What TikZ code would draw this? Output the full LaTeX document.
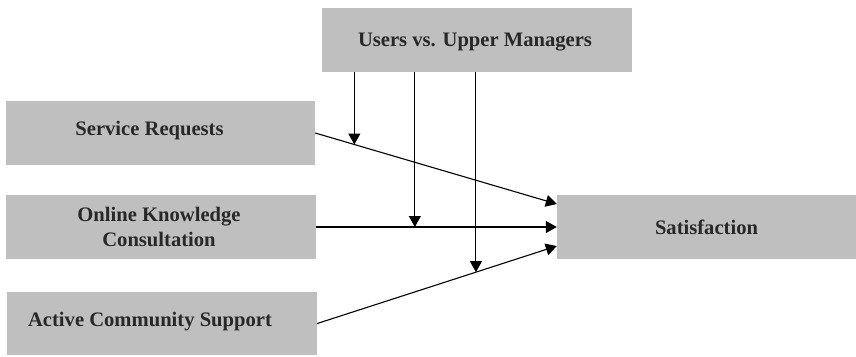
\documentclass[tikz,border=0pt]{standalone}
\usepackage{fontspec}
\setmainfont{Liberation Serif}
\usetikzlibrary{arrows.meta,calc}
\definecolor{boxgray}{RGB}{191,191,191}
\definecolor{inkgray}{RGB}{40,40,40}
\tikzset{
  box/.style={rectangle, fill=boxgray, draw=none, inner sep=0pt},
  lbl/.style={text=inkgray, font=\fontsize{20.6}{25}\selectfont\bfseries, align=center, inner sep=0pt},
  arr/.style={line width=1.1pt, -{Triangle[length=11pt,width=12pt]}},
}
\begin{document}
\begin{tikzpicture}[x=1pt,y=-1pt]
  \useasboundingbox (0,0) rectangle (856,356);

  % boxes
  \node[box, minimum width=310pt, minimum height=64pt] (top) at (477,40) {};
  \node[box, minimum width=309pt, minimum height=64pt] (sr)  at (160.5,133) {};
  \node[box, minimum width=310pt, minimum height=64pt] (ok)  at (161,227) {};
  \node[box, minimum width=310pt, minimum height=63pt] (ac)  at (162,323.5) {};
  \node[box, minimum width=299pt, minimum height=64pt] (sat) at (706.5,227) {};

  % labels (shifts are in page points, upward positive)
  \node[lbl] (toptext) at ([xshift=-2pt,yshift=-2pt]top.center) {Users vs. Upper Managers};
  \node[lbl] (srtext)  at ([xshift=-11pt,yshift=2pt]sr.center) {Service Requests};
  \node[lbl] (oktext)  at ([xshift=-2pt]ok.center) {Online Knowledge\\Consultation};
  \node[lbl] (actext)  at ([xshift=-12pt,yshift=2pt]ac.center) {Active Community Support};
  \node[lbl] (sattext) at (sat.center) {Satisfaction};

  % targets on the outcome box
  \coordinate (s1) at ([yshift=23pt]sat.west);
  \coordinate (s3) at ([yshift=-19pt]sat.west);

  % direct effects
  \draw[arr] (sr.east) -- (s1);
  \draw[arr] (ok.east) -- (sat.west);
  \draw[arr] (ac.east) -- (s3);

  % moderation points on each path
  \coordinate (m1) at ($(sr.east)!0.162!(s1)$);
  \coordinate (m2) at ($(ok.east)!0.41!(sat.west)$);
  \coordinate (m3) at ($(ac.east)!0.6625!(s3)$);

  \draw[arr] (top.south -| m1) -- (m1);
  \draw[arr] (top.south -| m2) -- (m2);
  \draw[arr] (top.south -| m3) -- (m3);
\end{tikzpicture}
\end{document}
